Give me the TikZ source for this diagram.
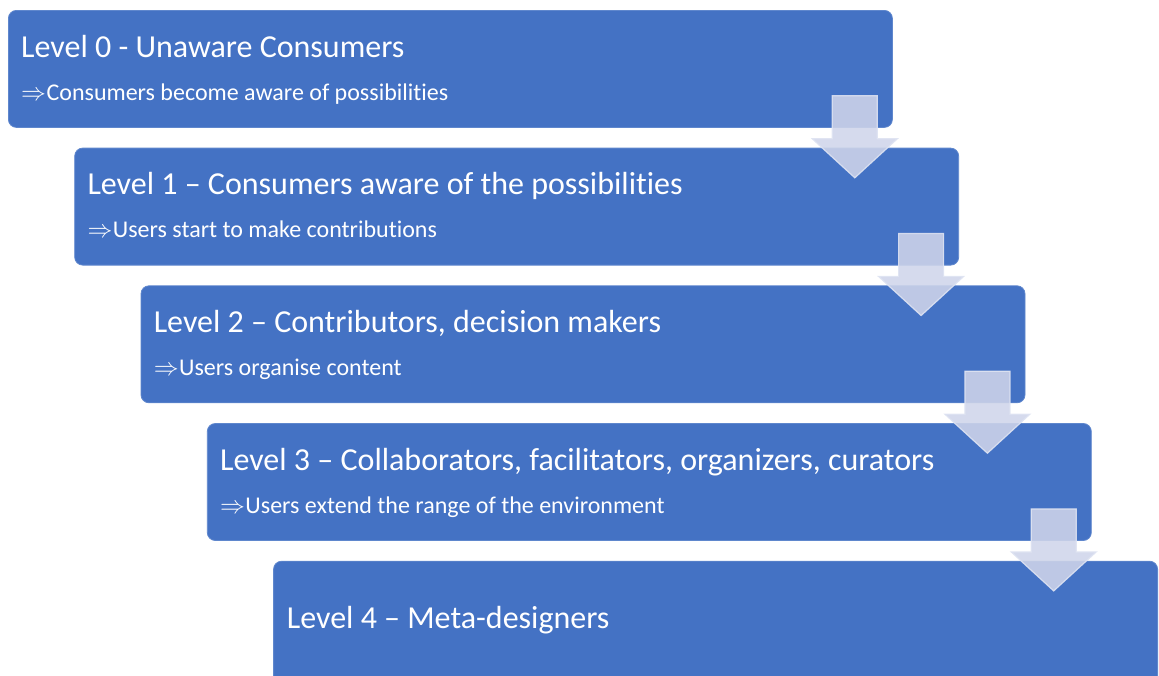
\documentclass[tikz,border=0pt]{standalone}
\usepackage{fontspec}
\setmainfont{Carlito}[Ligatures={NoCommon}]
\usetikzlibrary{calc}
\definecolor{boxblue}{RGB}{68,114,196}
\definecolor{boxedge}{RGB}{95,135,205}
\definecolor{arrfill}{RGB}{207,213,234}
\definecolor{arredge}{RGB}{222,227,242}
\tikzset{
  levelbox/.style={draw=boxedge, line width=0.8pt, fill=boxblue, rounded corners=8pt,
    minimum width=884pt, minimum height=117pt, inner sep=0pt, anchor=north west},
  titletext/.style={text=white, font=\fontsize{32}{36}\selectfont, anchor=base west, inner sep=0pt},
  subtext/.style={text=white, font=\fontsize{24}{27}\selectfont, anchor=base west, inner sep=0pt},
  blockarrow/.style={fill=arrfill, fill opacity=0.88, draw=arredge, draw opacity=0.9, line width=1.2pt, line join=miter}
}
\newcommand{\impl}{$\Rightarrow$\kern0.5pt}
\newcommand{\downarrowat}[1]{%
  \draw[blockarrow] ($(#1)+(-22.5,-82)$) -- ($(#1)+(22.5,-82)$) -- ($(#1)+(22.5,-39)$)
    -- ($(#1)+(42.5,-39)$) -- (#1) -- ($(#1)+(-42.5,-39)$) -- ($(#1)+(-22.5,-39)$) -- cycle;}
\begin{document}
\begin{tikzpicture}[x=1pt,y=-1pt]
\useasboundingbox (0,0) rectangle (1159,675);
\clip (0,0) rectangle (1159,675);
% boxes
\node[levelbox] (b0) at (8,10) {};
\node[levelbox] (b1) at (74.3,147.7) {};
\node[levelbox] (b2) at (140.6,285.4) {};
\node[levelbox] (b3) at (206.9,423.1) {};
\node[levelbox, minimum height=125pt] (b4) at (273.2,560.8) {};
% texts
\node[titletext] (t0) at ($(b0.north west)+(13,47)$) {Level 0 - Unaware Consumers};
\node[subtext] (s0) at ($(b0.north west)+(13,90)$) {\impl Consumers become aware of possibilities};
\node[titletext] (t1) at ($(b1.north west)+(13,47)$) {Level 1 – Consumers aware of the possibilities};
\node[subtext] (s1) at ($(b1.north west)+(13,90)$) {\impl Users start to make contributions};
\node[titletext] (t2) at ($(b2.north west)+(13,47)$) {Level 2 – Contributors, decision makers};
\node[subtext] (s2) at ($(b2.north west)+(13,90)$) {\impl Users organise content};
\node[titletext] (t3) at ($(b3.north west)+(13,47)$) {Level 3 – Collaborators, facilitators, organizers, curators};
\node[subtext] (s3) at ($(b3.north west)+(13,90)$) {\impl Users extend the range of the environment};
\node[titletext] (t4) at ($(b4.north west)+(13.5,68)$) {Level 4 – Meta-designers};
% arrows
\coordinate (a0) at ($(b0.south east)+(-38,50)$);
\coordinate (a1) at ($(b1.south east)+(-38,50)$);
\coordinate (a2) at ($(b2.south east)+(-38,50)$);
\coordinate (a3) at ($(b3.south east)+(-38,50)$);
\downarrowat{a0}
\downarrowat{a1}
\downarrowat{a2}
\downarrowat{a3}
\end{tikzpicture}
\end{document}
